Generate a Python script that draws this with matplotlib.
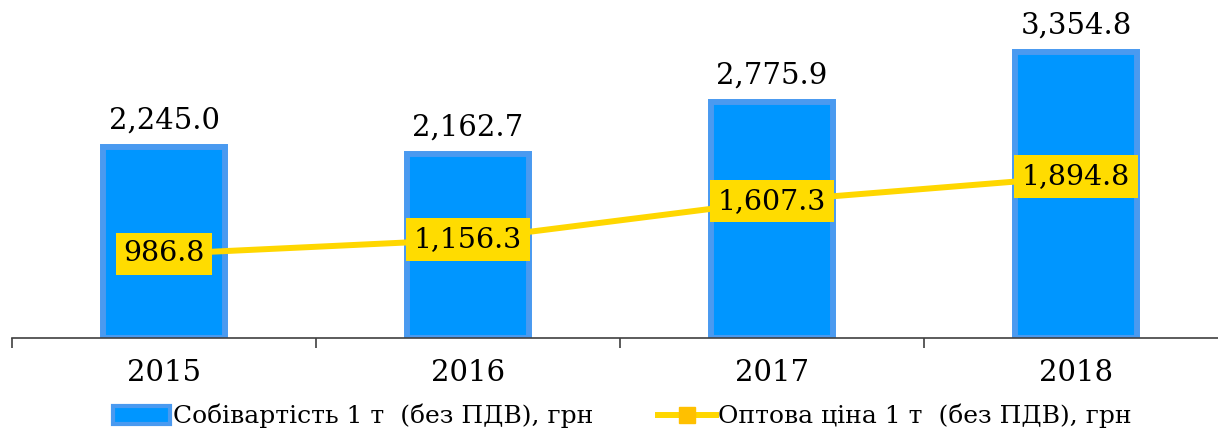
import matplotlib.pyplot as plt
from matplotlib.lines import Line2D
from matplotlib.patches import Patch

YEARS = ["2015", "2016", "2017", "2018"]
COST = [2245.0, 2162.7, 2775.9, 3354.8]
PRICE = [986.8, 1156.3, 1607.3, 1894.8]

COST_LABEL = "Собівартість 1 т  (без ПДВ), грн"
PRICE_LABEL = "Оптова ціна 1 т  (без ПДВ), грн"

BAR_FILL = "#0096FF"
BAR_EDGE = "#4A9AF0"
LINE = "#FFD700"
LABEL_BOX = "#FFDC00"
MARKER = "#FFC000"
AXIS = "#404040"

plt.rcParams["font.family"] = ["DejaVu Serif"]

fig = plt.figure(figsize=(12.18, 4.34), dpi=100)
# axes runs a little past the right edge, like the original layout
ax = fig.add_axes([12 / 1218, 96 / 434, 1216 / 1218, 338 / 434])

x = list(range(len(YEARS)))
ax.bar(x, COST, width=0.40, color=BAR_FILL, edgecolor=BAR_EDGE,
       linewidth=4.3, zorder=2)
ax.plot(x, PRICE, color=LINE, linewidth=4.3, marker="s", markersize=8,
        markerfacecolor=MARKER, markeredgecolor=MARKER, zorder=3)

for i, v in enumerate(COST):
    ax.annotate(f"{v:,.1f}", (i, v), xytext=(0, 9), textcoords="offset points",
                ha="center", va="bottom", fontsize=21, color="black")

for i, v in enumerate(PRICE):
    ax.text(i, v, f"{v:,.1f}", ha="center", va="center", fontsize=20.5,
            color="black", zorder=4,
            bbox=dict(boxstyle="square,pad=0.27", facecolor=LABEL_BOX,
                      edgecolor="none"))

ax.set_xlim(-0.5, len(YEARS) - 0.5)
ax.set_ylim(0, 3970)

# tick marks sit between categories, labels under the bar centres
ax.set_xticks([i - 0.5 for i in range(len(YEARS) + 1)])
ax.set_xticklabels([])
ax.set_xticks(x, minor=True)
ax.set_xticklabels(YEARS, minor=True, fontsize=21)
ax.tick_params(axis="x", which="major", direction="out", length=7,
               color=AXIS, width=1.2)
ax.tick_params(axis="x", which="minor", length=0, pad=15)
ax.set_yticks([])

for side in ("top", "right", "left"):
    ax.spines[side].set_visible(False)
ax.spines["bottom"].set_color(AXIS)
ax.spines["bottom"].set_linewidth(1.2)

handles = [
    Patch(facecolor=BAR_FILL, edgecolor=BAR_EDGE, linewidth=3, label=COST_LABEL),
    Line2D([0], [0], color=LINE, linewidth=4.3, marker="s", markersize=12,
           markerfacecolor=MARKER, markeredgecolor=MARKER, label=PRICE_LABEL),
]
fig.legend(handles=handles, loc="center", bbox_to_anchor=(0.511, 0.041),
           ncol=2, frameon=False, fontsize=18, handlelength=2.3,
           handletextpad=0.1, columnspacing=2.6, handleheight=0.75)

fig.savefig("out.png", dpi=100, facecolor="white")
